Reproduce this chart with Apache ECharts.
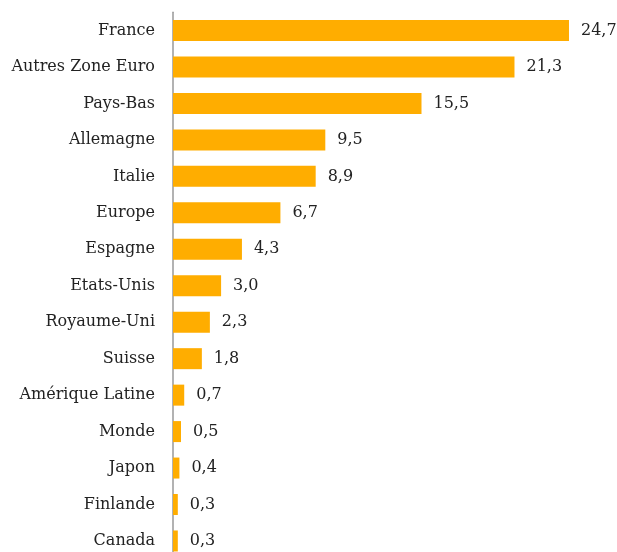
<!DOCTYPE html>
<html><head><meta charset="utf-8">
<script src="https://cdn.jsdelivr.net/npm/echarts@6/dist/echarts.min.js"></script>
<style>html,body{margin:0;padding:0;background:#fff;overflow:hidden}#c{width:617px;height:560px}</style>
</head><body><div id="c"></div>
<script>
const categories = ["France","Autres Zone Euro","Pays-Bas","Allemagne","Italie","Europe","Espagne","Etats-Unis","Royaume-Uni","Suisse","Amérique Latine","Monde","Japon","Finlande","Canada"];
const values = [24.7,21.3,15.5,9.5,8.9,6.7,4.3,3.0,2.3,1.8,0.7,0.5,0.4,0.3,0.3];
const font = "DejaVu Serif";
const chart = echarts.init(document.getElementById('c'));
chart.setOption({
  animation:false,
  grid:{left:173,top:12.3,width:400.8,height:546.9,containLabel:false},
  xAxis:{type:'value',min:0,max:25,show:false},
  yAxis:{type:'category',data:categories,inverse:true,
    axisLine:{show:true,lineStyle:{color:'#999',width:1.5}},
    axisTick:{show:false},
    axisLabel:{margin:18,fontFamily:font,fontSize:16,color:'#222'}},
  series:[{type:'bar',data:values,barWidth:21,
    itemStyle:{color:'#FFAD00'},
    label:{show:true,position:'right',distance:12,fontFamily:font,fontSize:16,color:'#222',
      formatter:p=>p.value.toFixed(1).replace('.',',')}}]
});
</script></body></html>
